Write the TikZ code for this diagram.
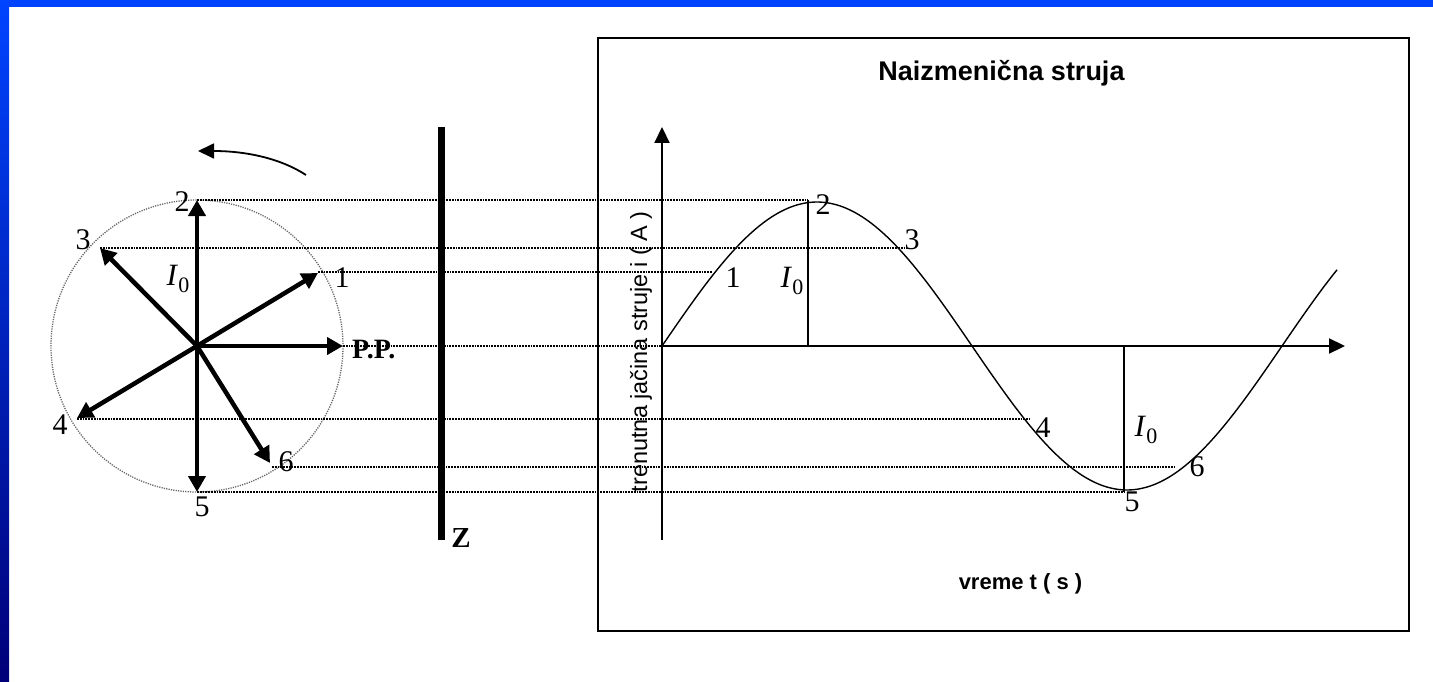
\documentclass[tikz,border=0pt]{standalone}
\usepackage{fontspec}
\setmainfont{Liberation Serif}
\newfontfamily\arial{Liberation Sans}
\usetikzlibrary{arrows.meta}
\definecolor{bandtop}{HTML}{0044FF}
\definecolor{bandbot}{HTML}{000078}
\newcommand{\Isub}{\textit{I}\raisebox{-0.2em}{\upshape\fontsize{22}{22}\selectfont 0}}
\begin{document}
\begin{tikzpicture}[x=1pt,y=-1pt,
  phasor/.style={line width=4.5pt,-{Triangle[length=16pt,width=17pt]}},
  proj/.style={line width=2.4pt,dash pattern=on 1.8pt off 1pt},
  lbl/.style={inner sep=0pt,font=\fontsize{30}{30}\selectfont},
  ilbl/.style={inner sep=0pt,font=\fontsize{31}{31}\selectfont},
  axisline/.style={line width=2.2pt,-{Triangle[length=16pt,width=15pt]}},
  thinv/.style={line width=2.2pt},
  sans/.style={inner sep=0pt,font=\arial\fontsize{22}{22}\selectfont}]
\useasboundingbox (0,0) rectangle (1433,682);
\fill[white] (0,0) rectangle (1433,682);
\fill[bandtop] (0,0) rectangle (1433,7);
\shade[top color=bandtop,bottom color=bandbot] (0,0) rectangle (9,682);
% phasor diagram
\coordinate (C) at (197,346);
\draw[black!60,line width=1.3pt,dash pattern=on 1.2pt off 1.2pt] (C) circle[radius=146];
\coordinate (t1) at (318,273);
\coordinate (t2) at (197,200);
\coordinate (t3) at (100,248);
\coordinate (t4) at (77,418);
\coordinate (t5) at (197,492);
\coordinate (t6) at (270,463);
\coordinate (tp) at (343,346);
% projection endpoints on curve
\coordinate (c1) at (712,272);
\coordinate (c2) at (808,200);
\coordinate (c3) at (907,248);
\coordinate (c4) at (1030,419);
\coordinate (c5) at (1124,492);
\coordinate (c6) at (1175,467);
\coordinate (O) at (662,346);
\draw[proj] (t2) -- (c2);
\draw[proj] (t3) -- (c3);
\draw[proj] (t1 |- c1) -- (c1);
\draw[proj] (tp) -- (O);
\draw[proj] (t4 |- c4) -- (c4);
\draw[proj] (272,467) -- (c6);
\draw[proj] (t5) -- (c5);
\foreach \t in {t1,t2,t3,t4,t5,t6,tp} \draw[phasor] (C) -- (\t);
% rotation arrow
\coordinate (ra) at (306,175);
\coordinate (rb) at (198,151);
\draw[line width=1.8pt,-{Triangle[length=16pt,width=15pt]}] (ra) .. controls (280,158) and (245,151) .. (rb);
% phasor labels
\node[lbl] (n2) at (182,202) {2};
\node[lbl] (n3) at (83,240) {3};
\node[lbl] (n1) at (342,278) {1};
\node[lbl] (n4) at (60,425) {4};
\node[lbl] (n6) at (286,462) {6};
\node[lbl] (n5) at (202,507) {5};
\node[ilbl] (nI) at (178,279) {\Isub};
\node[lbl,font=\fontsize{28}{28}\selectfont\bfseries,anchor=west] (pp) at (352,350) {P.P.};
% screen Z
\coordinate (z1) at (441.5,127);
\coordinate (z2) at (441.5,540);
\draw[line width=6.5pt] (z1) -- (z2);
\node[lbl,font=\fontsize{29}{29}\selectfont\bfseries] (Z) at (461,538) {Z};
% graph box
\draw[line width=2.5pt] (598,38) rectangle (1409,631);
\node[sans,font=\arial\bfseries\fontsize{27}{27}\selectfont,anchor=base] (title) at (1001.5,81) {Naizmenična struja};
\node[sans,font=\arial\bfseries\fontsize{22}{22}\selectfont] (xl) at (1020.5,584) {vreme t ( s )};
\node[sans,font=\arial\fontsize{23.5}{23.5}\selectfont,rotate=90] (yl) at (641,351.7) {trenutna jačina struje i ( A )};
% axes
\coordinate (xe) at (1345,346);
\coordinate (yb) at (662,540);
\coordinate (ye) at (662,127);
\draw[axisline] (O) -- (xe);
\draw[axisline] (yb) -- (ye);
% sine curve
\draw[line width=1.4pt] plot[domain=0:675,samples=160,smooth] ({662+\x},{346-144*sin(\x*0.5806452)});
% amplitude lines
\draw[thinv] (c2 |- O) -- (c2);
\draw[thinv] (c5 |- O) -- (c5);
% graph labels
\node[lbl] (g1) at (733,278) {1};
\node[ilbl] (gI1) at (792,281) {\Isub};
\node[lbl] (g2) at (823,205) {2};
\node[lbl] (g3) at (912,240) {3};
\node[lbl] (g4) at (1043,428) {4};
\node[ilbl] (gI2) at (1146,430) {\Isub};
\node[lbl] (g6) at (1197,467) {6};
\node[lbl] (g5) at (1132,502) {5};
\end{tikzpicture}
\end{document}
